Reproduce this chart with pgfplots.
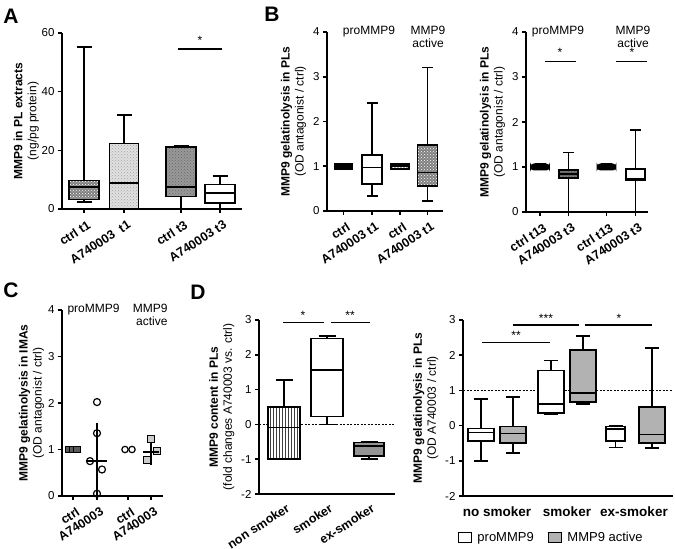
\documentclass[border=0pt]{standalone}
\usepackage{fontspec}
\setmainfont{Liberation Sans}
\usepackage{pgfplots}
\pgfplotsset{compat=1.18}
\usepgfplotslibrary{statistics}
\usetikzlibrary{patterns}

\pgfplotsset{
  gp/.style={
    scale only axis,
    axis x line*=bottom, axis y line*=left,
    axis line style={line width=1.6pt,-},
    every tick/.style={line width=1.6pt,black},
    tick align=outside, major tick length=4pt,
    /pgf/number format/assume math mode=true,
    yticklabel style={font=\fontsize{11.5}{12}\selectfont},
    ylabel style={align=center,font=\fontsize{12}{14}\selectfont},
    boxplot/draw direction=y,
    clip=false,
  },
  rotlab/.style={xticklabel style={xshift=3pt,yshift=-5pt,rotate=33,anchor=north east,inner sep=1pt,
      font=\bfseries\fontsize{12.5}{13}\selectfont}},
  bx/.style={black,line width=1.6pt,solid},
  pat/.style 2 args={boxplot/every box/.append style={postaction={pattern=#1,pattern color=#2}}},
  gp legend/.style={legend image code/.code={\draw[##1] (0pt,-5pt) rectangle (13pt,5pt);}},
}
\newcommand{\note}{\fontsize{12}{13}\selectfont}

\begin{document}
\begin{tikzpicture}[x=1pt,y=1pt]

% ---------- A ----------
\begin{axis}[gp, rotlab, at={(62pt,340pt)}, anchor=south west, width=180pt, height=176pt,
  xmin=0, xmax=18, ymin=0, ymax=60, ytick={0,20,40,60},
  xtick={2.2,6.2,11.9,15.8}, xticklabels={ctrl t1,A740003\ \ t1,ctrl t3,A740003 t3},
  ylabel={\textbf{MMP9 in PL extracts}\\(ng/pg protein)}, ylabel shift=-4pt,
  boxplot/whisker extend=1.5]
\addplot[bx, fill=black!50, pat={crosshatch dots}{white},
  boxplot prepared={draw position=2.2, box extend=3, lower whisker=2.3,
  lower quartile=3.2, median=7.4, upper quartile=9.75, upper whisker=55.3}] coordinates {};
\addplot[bx, fill=black!12, pat={crosshatch dots}{black!35},
  boxplot prepared={draw position=6.2, box extend=2.9, lower whisker=0,
  lower quartile=0, median=8.9, upper quartile=22.3, upper whisker=32}] coordinates {};
\addplot[bx, fill=black!40, pat={crosshatch dots}{black!60},
  boxplot prepared={draw position=11.9, box extend=3, lower whisker=0,
  lower quartile=4.3, median=7.4, upper quartile=21.1, upper whisker=21.6}] coordinates {};
\addplot[bx, fill=white,
  boxplot prepared={draw position=15.8, box extend=3, lower whisker=0,
  lower quartile=2.0, median=5.45, upper quartile=8.3, upper whisker=11.35}] coordinates {};
\draw[line width=1.4pt] (axis cs:11.6,54.6) -- (axis cs:16,54.6);
\node[font=\note] at (axis cs:13.8,57.6) {*};
\end{axis}

% ---------- B left ----------
\begin{axis}[gp, rotlab, at={(327pt,338pt)}, anchor=south west, width=116pt, height=179pt,
  xmin=0, xmax=11.6, ymin=0, ymax=4, ytick={0,1,2,3,4},
  xtick={1.65,4.5,7.3,10.05}, xticklabels={ctrl,A740003 t1,ctrl,A740003 t1},
  ylabel={\textbf{MMP9 gelatinolysis in PLs}\\(OD antagonist / ctrl)},
  boxplot/whisker extend=1.1]
\addplot[bx, fill=black,
  boxplot prepared={draw position=1.65, box extend=1.8, lower whisker=0.93,
  lower quartile=0.93, median=1, upper quartile=1.05, upper whisker=1.05}] coordinates {};
\addplot[bx, fill=white,
  boxplot prepared={draw position=4.5, box extend=2, lower whisker=0.34,
  lower quartile=0.6, median=0.97, upper quartile=1.25, upper whisker=2.42}] coordinates {};
\addplot[bx, fill=black!35, pat={vertical lines}{white},
  boxplot prepared={draw position=7.3, box extend=1.8, lower whisker=0.94,
  lower quartile=0.94, median=1, upper quartile=1.05, upper whisker=1.05}] coordinates {};
\addplot[bx, fill=black!50, pat={crosshatch dots}{white},
  boxplot prepared={draw position=10.05, box extend=2, lower whisker=0.22,
  lower quartile=0.56, median=0.86, upper quartile=1.48, upper whisker=3.21}] coordinates {};
\node[font=\note] at (axis cs:4.2,4) {proMMP9};
\node[font=\note,align=center,anchor=north] at (axis cs:10.1,4.2) {MMP9\\active};
\end{axis}

% ---------- B right ----------
\begin{axis}[gp, rotlab, at={(526pt,337pt)}, anchor=south west, width=122pt, height=180pt,
  xmin=0, xmax=12.2, ymin=0, ymax=4, ytick={0,1,2,3,4},
  xtick={1.4,4.25,8.05,10.95}, xticklabels={ctrl t13,A740003 t3,ctrl t13,A740003 t3},
  ylabel={\textbf{MMP9 gelatinolysis in PLs}\\(OD antagonist / ctrl)},
  boxplot/whisker extend=1.1]
\addplot[bx, fill=black, rounded corners=3pt,
  boxplot prepared={draw position=1.4, box extend=1.8, lower whisker=0.94,
  lower quartile=0.94, median=1, upper quartile=1.06, upper whisker=1.06}] coordinates {};
\addplot[bx, fill=black!60, pat={dots}{white},
  boxplot prepared={draw position=4.25, box extend=1.9, lower whisker=0,
  lower quartile=0.75, median=0.84, upper quartile=0.93, upper whisker=1.32}] coordinates {};
\addplot[bx, fill=black, rounded corners=3pt,
  boxplot prepared={draw position=8.05, box extend=1.8, lower whisker=0.94,
  lower quartile=0.94, median=1, upper quartile=1.06, upper whisker=1.06}] coordinates {};
\addplot[bx, fill=white,
  boxplot prepared={draw position=10.95, box extend=1.9, lower whisker=0,
  lower quartile=0.71, median=0.74, upper quartile=0.95, upper whisker=1.82}] coordinates {};
\draw[line width=1.4pt] (axis cs:1.9,3.35) -- (axis cs:5.0,3.35);
\draw[line width=1.4pt] (axis cs:9.0,3.35) -- (axis cs:12.1,3.35);
\node[font=\note] at (axis cs:3.4,3.55) {*};
\node[font=\note] at (axis cs:10.6,3.55) {*};
\node[font=\note] at (axis cs:3.2,4) {proMMP9};
\node[font=\note,align=center,anchor=north] at (axis cs:10.7,4.22) {MMP9\\active};
\end{axis}

% ---------- C ----------
\begin{axis}[gp, rotlab, at={(62pt,53pt)}, anchor=south west, width=101pt, height=186pt,
  xmin=0, xmax=10.1, ymin=0, ymax=4, ytick={0,1,2,3,4},
  xtick={1.1,3.5,6.6,8.9}, xticklabels={ctrl,A740003,ctrl,A740003},
  ylabel={\textbf{MMP9 gelatinolysis in IMAs}\\(OD antagonist / ctrl)}, ylabel shift=-3pt]
\addplot[only marks, mark=square*, mark size=3.2pt,
  mark options={fill=black!65, draw=black, line width=0.8pt}]
  coordinates {(0.7,1) (1.1,1) (1.5,1)};
\addplot[only marks, mark=o, mark size=3.5pt, mark options={draw=black, line width=1.2pt}]
  coordinates {(3.5,2.02) (3.5,1.35) (2.8,0.75) (4.0,0.57) (3.5,0.05)};
\addplot[only marks, mark=o, mark size=3.2pt, mark options={draw=black, line width=1.2pt}]
  coordinates {(6.3,1) (7.0,1)};
\addplot[only marks, mark=square*, mark size=3.5pt,
  mark options={fill=black!20, draw=black, line width=0.9pt}]
  coordinates {(8.9,1.23) (9.5,0.97) (8.5,0.77)};
\addplot[only marks, mark=-, mark size=10pt, mark options={line width=1.4pt},
  error bars/.cd, y dir=both, y explicit,
  error bar style={line width=1.4pt},
  error mark options={mark size=6pt, line width=1.4pt}]
  coordinates {(3.5,0.75) +- (0,0.69)};
\addplot[only marks, mark=-, mark size=8pt, mark options={line width=1.4pt},
  error bars/.cd, y dir=both, y explicit,
  error bar style={line width=1.4pt},
  error mark options={mark size=5pt, line width=1.4pt}]
  coordinates {(8.9,0.95) +- (0,0.17)};
\node[font=\note,anchor=west] at (axis cs:0.2,4) {proMMP9};
\node[font=\note,align=right,anchor=north east] at (axis cs:10.9,4.2) {MMP9\\active};
\end{axis}

% ---------- D left ----------
\begin{axis}[gp, rotlab, at={(259pt,55pt)}, anchor=south west, width=136pt, height=174pt,
  xmin=0, xmax=13.6, ymin=-2, ymax=3, ytick={-2,-1,0,1,2,3},
  xtick={2.5,6.8,11.0}, xticklabels={non smoker,smoker,ex-smoker},
  xticklabel style={yshift=2pt},
  xtick style={draw=none},
  ylabel={\textbf{MMP9 content  in PLs}\\(fold  changes  A740003 vs. ctrl)},
  boxplot/whisker extend=1.7]
\draw[line width=1pt, dash pattern=on 2pt off 1.5pt] (axis cs:0,0) -- (axis cs:13.6,0);
\addplot[bx, fill=white, pat={vertical lines}{black!75},
  boxplot prepared={draw position=2.5, box extend=3.2, lower whisker=-1,
  lower quartile=-1, median=-0.09, upper quartile=0.5, upper whisker=1.27}] coordinates {};
\addplot[bx, fill=white,
  boxplot prepared={draw position=6.8, box extend=3.2, lower whisker=0,
  lower quartile=0.23, median=1.57, upper quartile=2.47, upper whisker=2.54}] coordinates {};
\addplot[bx, fill=black!42,
  boxplot prepared={draw position=11.0, box extend=3.0, lower whisker=-1,
  lower quartile=-0.91, median=-0.62, upper quartile=-0.52, upper whisker=-0.49}] coordinates {};
\draw[line width=1.4pt] (axis cs:2.4,2.92) -- (axis cs:6.5,2.92);
\draw[line width=1.4pt] (axis cs:7.2,2.92) -- (axis cs:11.1,2.92);
\node[font=\note] at (axis cs:4.4,3.12) {*};
\node[font=\note] at (axis cs:9.1,3.12) {**};
\end{axis}

% ---------- D right ----------
\begin{axis}[gp, gp legend, at={(463pt,53pt)}, anchor=south west, width=210pt, height=176pt,
  xmin=0, xmax=21, ymin=-2, ymax=3, ytick={-2,-1,0,1,2,3},
  xtick={3.4,10.4,17.1}, xticklabels={no smoker,smoker,ex-smoker},
  xtick style={draw=none},
  xticklabel style={anchor=north,yshift=-3pt,
    font=\bfseries\fontsize{13.5}{14}\selectfont},
  ylabel={\textbf{MMP9 gelatinolysis in PLs}\\(OD A740003 / ctrl)},
  legend columns=2,
  legend style={at={(0.42,-0.235)}, anchor=center, draw=none,
    font=\fontsize{13}{14}\selectfont,
    /tikz/every even column/.append style={column sep=12pt}},
  boxplot/whisker extend=1.4]
\addlegendimage{draw=black, fill=white, line width=1pt}
\addlegendentry{\ proMMP9}
\addlegendimage{draw=black, fill=black!30, line width=1pt}
\addlegendentry{\ MMP9 active}
\draw[line width=1pt, dash pattern=on 2pt off 1.5pt] (axis cs:0,1) -- (axis cs:21,1);
\addplot[bx, fill=white,
  boxplot prepared={draw position=1.8, box extend=2.6, lower whisker=-1,
  lower quartile=-0.44, median=-0.2, upper quartile=-0.085, upper whisker=0.75}] coordinates {};
\addplot[bx, fill=black!30,
  boxplot prepared={draw position=5.0, box extend=2.6, lower whisker=-0.77,
  lower quartile=-0.5, median=-0.22, upper quartile=-0.02, upper whisker=0.82}] coordinates {};
\addplot[bx, fill=white,
  boxplot prepared={draw position=8.8, box extend=2.6, lower whisker=0.33,
  lower quartile=0.35, median=0.61, upper quartile=1.57, upper whisker=1.85}] coordinates {};
\addplot[bx, fill=black!30,
  boxplot prepared={draw position=12.0, box extend=2.6, lower whisker=0.62,
  lower quartile=0.67, median=0.92, upper quartile=2.15, upper whisker=2.55}] coordinates {};
\addplot[bx, fill=white,
  boxplot prepared={draw position=15.25, box extend=1.9, lower whisker=-0.62,
  lower quartile=-0.43, median=-0.1, upper quartile=-0.02, upper whisker=0}] coordinates {};
\addplot[bx, fill=black!30,
  boxplot prepared={draw position=18.9, box extend=2.6, lower whisker=-0.63,
  lower quartile=-0.5, median=-0.25, upper quartile=0.52, upper whisker=2.2}] coordinates {};
\draw[line width=1.2pt] (axis cs:1.9,2.36) -- (axis cs:8.7,2.36);
\draw[line width=1.2pt] (axis cs:5.0,2.86) -- (axis cs:11.6,2.86);
\draw[line width=1.2pt] (axis cs:12.2,2.86) -- (axis cs:18.9,2.86);
\node[font=\note] at (axis cs:5.3,2.55) {**};
\node[font=\note] at (axis cs:8.3,3.05) {***};
\node[font=\note] at (axis cs:15.6,3.05) {*};
\end{axis}

\node[font=\bfseries\fontsize{21}{21}\selectfont] at (11,533) {A};
\node[font=\bfseries\fontsize{21}{21}\selectfont] at (272,535) {B};
\node[font=\bfseries\fontsize{21}{21}\selectfont] at (11,259) {C};
\node[font=\bfseries\fontsize{21}{21}\selectfont] at (198,257) {D};

\pgfresetboundingbox
\path[use as bounding box] (0,0) rectangle (675,549);
\end{tikzpicture}
\end{document}
